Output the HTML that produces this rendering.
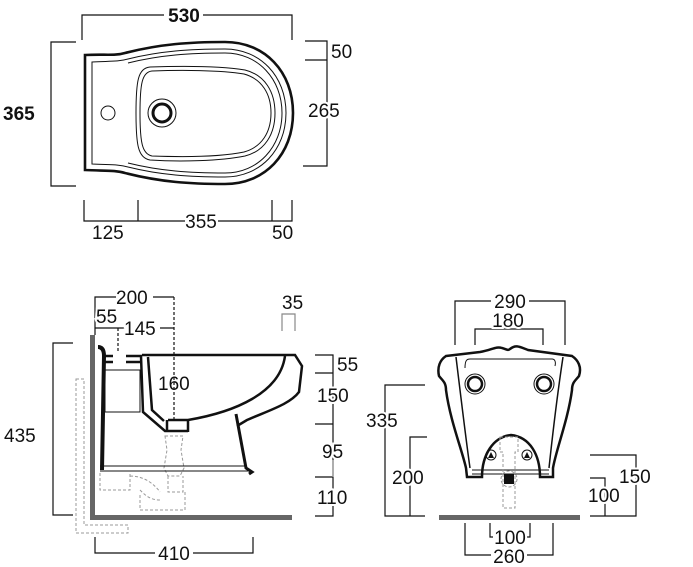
<!DOCTYPE html>
<html><head><style>
html,body{margin:0;padding:0;background:#fff;width:693px;height:567px;overflow:hidden}
svg{display:block}
text{font-family:"Liberation Sans",sans-serif;font-size:19px;fill:#111;paint-order:stroke;stroke:#fff;stroke-width:4px}
.b{font-weight:bold;font-size:19px}
</style></head><body>
<svg width="693" height="567" viewBox="0 0 693 567" xmlns="http://www.w3.org/2000/svg">
<g fill="none" stroke="#111" stroke-width="1.2">
<path d="M82,40V15H164M203,15H292V40"/>
<path d="M76,42H51V186H76"/>
<path d="M305,41H327V166H303M305,60H327"/>
<path d="M84,200V221H185M218,221H292V200M138,200V221M272,200V221"/>
</g>
<text x="184" y="22" text-anchor="middle" class="b">530</text>
<text x="3" y="120" class="b">365</text>
<text x="331" y="58">50</text>
<text x="308" y="117">265</text>
<text x="92" y="239">125</text>
<text x="201" y="228" text-anchor="middle">355</text>
<text x="272" y="239">50</text>
<g fill="none" stroke="#111">
<path d="M85,55 C105,54 115,56 125,53 C160,44 190,42 225,42 C265,42 293,72 293,113 C293,154 265,184 225,184 C190,184 160,182 125,173 C115,170 105,171 85,170 Z" stroke-width="2.6"/>
<path d="M92,62 C108,61 118,62 128,59 C160,51 190,49 225,49 C260,49 286,76 286,113 C286,150 260,177 225,177 C190,177 160,175 128,167 C118,164 108,165 92,164 Z" stroke-width="1"/>
<path d="M128,63 C160,55 190,53 225,53 C258,53 282,79 282,113 C282,147 258,173 225,173 C190,173 160,171 128,163" stroke-width="1"/>
<path d="M150,67 C180,66 220,66 245,70 C265,75 275,92 275,113 C275,134 265,151 245,156 C220,161 180,162 150,160 C138,158 136,145 136,113 C136,81 138,68 150,67 Z" stroke-width="1"/>
<path d="M152,71 C180,70 220,70 244,74 C262,79 271,94 271,113 C271,132 262,147 244,152 C220,157 180,157 152,156 C142,154 140,142 140,113 C140,84 142,72 152,71 Z" stroke-width="1"/>
<circle cx="162" cy="113" r="14" stroke-width="1"/>
<circle cx="162" cy="113" r="9" stroke-width="3"/>
<circle cx="108" cy="113" r="7" stroke-width="1"/>
</g>
<g fill="none" stroke="#111" stroke-width="1.2">
<path d="M95,335V297H116M153,297H174"/>
<path d="M174,297V420" stroke-dasharray="3,2"/>
<path d="M95,328H125M160,328H174"/>
<path d="M118,328V352" stroke-dasharray="3,2"/>
<path d="M282,331V314H295V331" stroke="#888"/>
<path d="M73,343H53V515H73"/>
<path d="M315,355H333V477M315,373H333M315,424H333M315,477H333M315,516H333V477"/>
<path d="M333,460V477" stroke="#999"/>
<path d="M95,537V553H155M193,553H253V537"/>
</g>
<g fill="none" stroke="#999" stroke-width="1" stroke-dasharray="3,2">
<path d="M76,379H84V525H128V533H76Z"/>
<path d="M165,436H183L181,450L184,468L180,476H168L164,468L167,450Z"/>
<path d="M168,476V492H183V476"/>
<path d="M100,473V490H130V473M130,476 C145,476 155,485 160,492 M140,490 C145,495 150,500 160,500 M140,495V510H185V492"/>
</g>
<rect x="90" y="335" width="5" height="183" fill="#666"/>
<rect x="90" y="515" width="202" height="5" fill="#666"/>
<g fill="none" stroke="#111">
<path d="M98,347 C102,347 104,350 104,356 L102,470" stroke-width="4"/>
<path d="M104,356H113M126,356H142M104,362H113M126,362H142" stroke-width="2.5"/>
<rect x="105" y="370" width="35" height="42" stroke-width="1"/>
<path d="M141,356 L143,412 L165,431 L188,431" stroke-width="2.5"/>
<path d="M148,357 L152,410 L164,421" stroke-width="2.5"/>
<path d="M142,355H295 L302,366 L299,392 C290,404 270,410 247,420 L237,426" stroke-width="2.5"/>
<path d="M285,356 C280,393 235,412 188,420 L168,420" stroke-width="2.5"/>
<path d="M236,414 L246,468 L252,472 L249,474" stroke-width="3"/>
<path d="M167,420V432M188,420V432" stroke-width="2.5"/>
<path d="M100,466H247M100,471H250" stroke-width="1"/>
</g>
<text x="116" y="304">200</text>
<text x="96" y="323">55</text>
<text x="124" y="335">145</text>
<text x="282" y="309">35</text>
<text x="4" y="442">435</text>
<text x="337" y="371">55</text>
<text x="317" y="402">150</text>
<text x="322" y="458">95</text>
<text x="317" y="504">110</text>
<text x="174" y="560" text-anchor="middle">410</text>
<text x="158" y="390" style="stroke-width:0">160</text>
<g fill="none" stroke="#111" stroke-width="1.2">
<path d="M455,345V301H491M529,301H565V345"/>
<path d="M475,345V329H543V345"/>
<path d="M425,385H385V516H425M427,437H410V516"/>
<path d="M590,455H636V516H590M590,478H605V516"/>
<path d="M490,523V537H493M527,537H530V523"/>
<path d="M465,523V555H491M527,555H553V523"/>
</g>
<text x="510" y="308" text-anchor="middle">290</text>
<text x="508" y="327" text-anchor="middle">180</text>
<text x="366" y="427">335</text>
<text x="392" y="484">200</text>
<text x="619" y="483">150</text>
<text x="588" y="502">100</text>
<text x="510" y="544" text-anchor="middle">100</text>
<text x="509" y="563" text-anchor="middle">260</text>
<rect x="439" y="515" width="141" height="5" fill="#666"/>
<g fill="none" stroke="#111">
<path d="M446,356 L480,352 C492,350 496,346 502,348 C506,349 508,351 510,349 C516,344 520,347 528,350 L572,356 C578,360 582,367 579,376 C576,380 572,382 572,390 C568,420 556,450 553,468 L553,477 L540,477 C540,455 530,437 511,435 C493,437 482,455 482,477 L467,477 L466,468 C462,450 450,420 446,390 C446,382 442,380 439,376 C437,367 440,360 446,356 Z" stroke-width="2.5"/>
<path d="M456,357 C460,390 466,440 470,468M563,357 C558,390 552,440 549,468" stroke-width="1.5"/>
<path d="M465,368 C465,360 467,359 470,359 H552 C555,359 556,362 555,366" stroke-width="1"/>
<path d="M472,470H549M472,474H549" stroke-width="1"/>
<circle cx="475" cy="384" r="10" stroke-width="1"/>
<circle cx="475" cy="384" r="7" stroke-width="2.5"/>
<circle cx="544" cy="384" r="10" stroke-width="1"/>
<circle cx="544" cy="384" r="7" stroke-width="2.5"/>
<circle cx="491" cy="455" r="5" stroke-width="1"/>
<circle cx="527" cy="455" r="5" stroke-width="1"/>
</g>
<path d="M488,458L491,452L494,458Z M524,458L527,452L530,458Z" fill="#111"/>
<g fill="none" stroke="#999" stroke-width="1" stroke-dasharray="3,2">
<path d="M500,437H518V452H515V508H503V452H500Z"/>
<circle cx="509" cy="479" r="8"/>
</g>
<rect x="504" y="474" width="10" height="10" fill="#111"/>
</svg>
</body></html>
